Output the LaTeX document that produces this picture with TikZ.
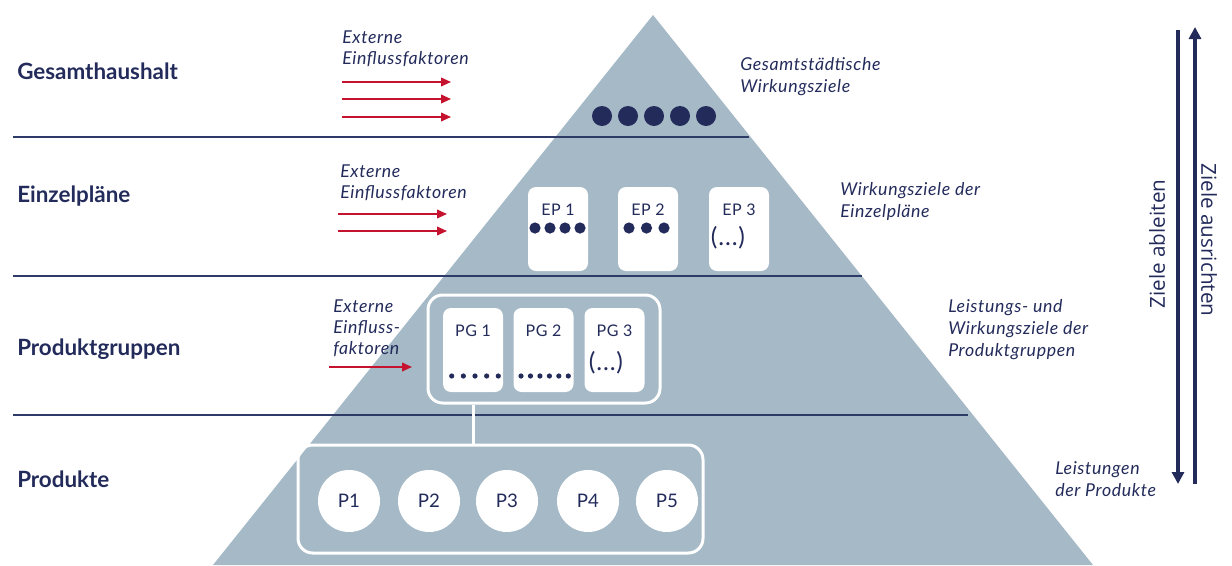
\documentclass[tikz,border=0pt]{standalone}
\usepackage{fontspec}
\setmainfont{Lato}
\newfontfamily\widefont{Lato}[LetterSpace=3.5]
\newfontfamily\sidefont{Open Sans}
\usetikzlibrary{arrows.meta}
\definecolor{navy}{HTML}{232B5B}
\definecolor{pyr}{HTML}{A5B9C6}
\definecolor{influxred}{HTML}{C4122F}
\definecolor{rulecol}{HTML}{2E3B68}

\begin{document}
\begin{tikzpicture}[x=0.75pt,y=-0.75pt,
  title/.style={anchor=base west,inner sep=0,text=navy,font=\fontsize{16.8}{19}\selectfont\bfseries},
  note/.style={anchor=base west,inner sep=0,text=navy,font=\widefont\fontsize{13.3}{15}\selectfont\itshape},
  influx/.style={draw=influxred,line width=1.3pt,-{Triangle[length=7.5pt,width=6.5pt]}},
  level/.style={draw=rulecol,line width=1.1pt},
  card/.style={fill=white,rounded corners=6pt,minimum width=45pt,minimum height=63pt,inner sep=0},
  cardtxt/.style={anchor=base,inner sep=0,text=navy,font=\widefont\fontsize{12}{14}\selectfont},
  etc/.style={inner sep=0,text=navy,font=\widefont\fontsize{18.5}{20}\selectfont},
  group/.style={draw=white,line width=2.25pt,rounded corners=11pt,inner sep=0},
  prod/.style={circle,fill=white,minimum size=46.5pt,inner sep=0,text=navy,font=\fontsize{14}{16}\selectfont},
  dot/.style={fill=navy},
  flow/.style={draw=navy,line width=2.6pt,-{Triangle[length=9pt,width=9pt]}},
  side/.style={inner sep=0,text=navy,font=\sidefont\fontsize{15.5}{18}\selectfont}
]
\useasboundingbox (0,0) rectangle (1232,565);

% pyramid
\fill[pyr] (653,15) -- (213,565) -- (1093,565) -- cycle;

% level separators
\draw[level] (13,137) -- (749,137);
\draw[level] (13,276) -- (862,276);
\draw[level] (13,415) -- (968,415);

% level titles
\node[title] (t1) at (17,79) {Gesamthaushalt};
\node[title] (t2) at (17,202) {Einzelpläne};
\node[title] (t3) at (17,355) {Produktgruppen};
\node[title] (t4) at (17,487) {Produkte};

% external factors
\node[note] (ex1a) at (342,43) {Externe};
\node[note] (ex1b) at (342,64) {Einflussfaktoren};
\draw[influx] (342,82) -- (451,82);
\draw[influx] (342,99) -- (451,99);
\draw[influx] (342,117) -- (451,117);

\node[note] (ex2a) at (340,177) {Externe};
\node[note] (ex2b) at (340,198) {Einflussfaktoren};
\draw[influx] (338,214) -- (447,214);
\draw[influx] (338,231) -- (447,231);

\node[note] (ex3a) at (333,312) {Externe};
\node[note] (ex3b) at (333,333) {Einfluss-};
\node[note] (ex3c) at (333,354) {faktoren};
\draw[influx] (329,367) -- (412,367);

% goals per level
\node[note] (g1a) at (740,70) {Gesamtstädtische};
\node[note] (g1b) at (740,92) {Wirkungsziele};
\node[note] (g2a) at (840,195) {Wirkungsziele der};
\node[note] (g2b) at (840,217) {Einzelpläne};
\node[note] (g3a) at (948,312) {Leistungs- und};
\node[note] (g3b) at (948,334) {Wirkungsziele der};
\node[note] (g3c) at (948,356) {Produktgruppen};
\node[note] (g4a) at (1055,474) {Leistungen};
\node[note] (g4b) at (1055,496) {der Produkte};

% overall goals
\foreach \x in {602,628,654,680,706} \fill[dot] (\x,116) circle[radius=10];

% Einzelpläne
\node[card] (ep1) at (558,229) {};
\node[card] (ep2) at (648,229) {};
\node[card] (ep3) at (739,229) {};
\node[cardtxt] (ep1t) at (558,215) {EP 1};
\node[cardtxt] (ep2t) at (648,215) {EP 2};
\node[cardtxt] (ep3t) at (739,215) {EP 3};
\foreach \x in {535,550,565,580} \fill[dot] (\x,228) circle[radius=5.6];
\foreach \x in {629,646.5,664} \fill[dot] (\x,228) circle[radius=5.6];
\node[etc] (ep3e) at (728,238) {(...)};

% Produktgruppen
\node[group,minimum width=174pt,minimum height=81pt] (pgbox) at (544,349) {};
\node[card] (pg1) at (473,350) {};
\node[card] (pg2) at (543.5,350) {};
\node[card] (pg3) at (614.5,350) {};
\node[cardtxt] (pg1t) at (473,336) {PG 1};
\node[cardtxt] (pg2t) at (543.5,336) {PG 2};
\node[cardtxt] (pg3t) at (614.5,336) {PG 3};
\foreach \i in {0,...,4} \fill[dot] (451.7+11.65*\i,376) circle[radius=2.6];
\foreach \i in {0,...,5} \fill[dot] (521+9.46*\i,376) circle[radius=2.6];
\node[etc] (pg3e) at (606,363) {(...)};

% Produkte
\node[group,minimum width=303.75pt,minimum height=81pt] (prodbox) at (500.5,499) {};
\node[prod] (p1) at (349,501) {P1};
\node[prod] (p2) at (429,501) {P2};
\node[prod] (p3) at (507,501) {P3};
\node[prod] (p4) at (588,501) {P4};
\node[prod] (p5) at (667,501) {P5};

\draw[white,line width=2.25pt] (pg1 |- pgbox.south) -- (pg1 |- prodbox.north);

% direction of goals
\coordinate (dtop) at (1178,30);
\coordinate (dbot) at (1178,484);
\coordinate (utop) at (1195,27);
\coordinate (ubot) at (1195,484);
\draw[flow] (dtop) -- (dbot);
\draw[flow] (ubot) -- (utop);
\node[side,rotate=90] (derive) at (1157,244) {Ziele ableiten};
\node[side,rotate=-90] (align) at (1209,240) {Ziele ausrichten};
\end{tikzpicture}
\end{document}
